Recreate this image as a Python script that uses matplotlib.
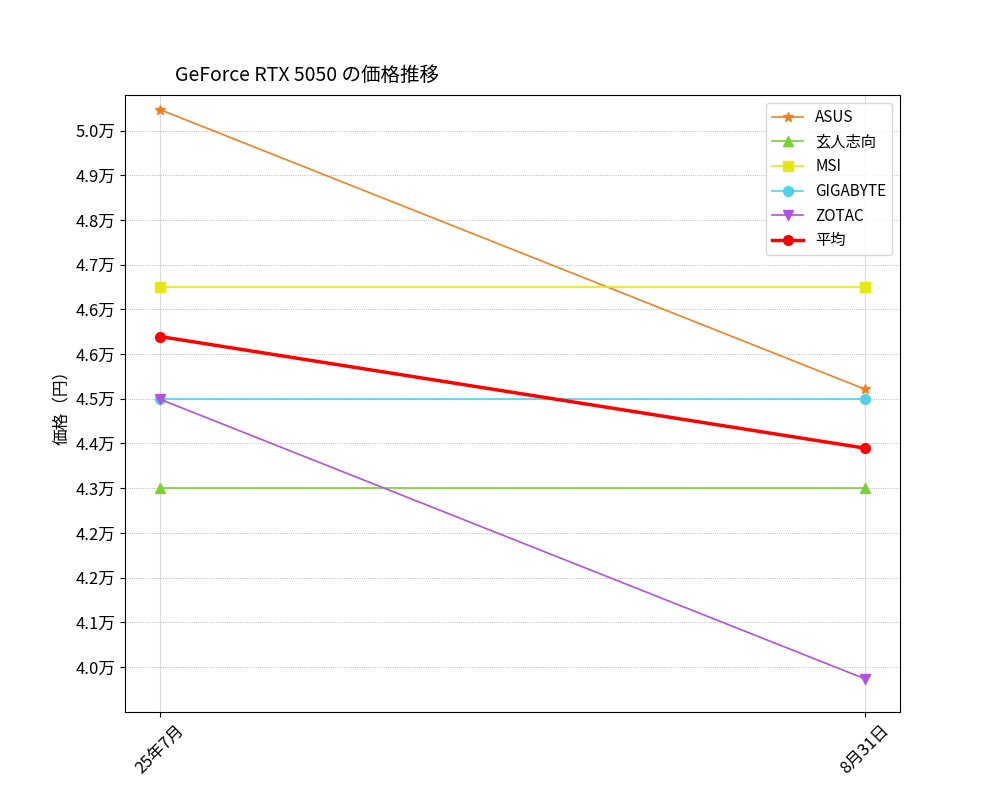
import numpy as np
import matplotlib.pyplot as plt
from matplotlib.ticker import FixedLocator

plt.rcParams['font.family'] = ['Noto Sans CJK JP', 'DejaVu Sans']
plt.rcParams['font.size'] = 12

dates = ['25年7月', '8月31日']
asus = [50390, 45180]
kurouto = [43330, 43330]
msi = [47080, 47080]
gigabyte = [44990, 44990]
zotac = [44990, 39780]
avg = [46160, 44080]

ytick_vals = np.linspace(40000, 50000, 13)
ytick_labels = ['4.0万', '4.1万', '4.2万', '4.2万', '4.3万', '4.4万', '4.5万',
                '4.6万', '4.6万', '4.7万', '4.8万', '4.9万', '5.0万']

fig = plt.figure(figsize=(10, 8), dpi=100)
ax = fig.add_axes([0.125, 0.11, 0.775, 0.771])
x = np.arange(len(dates))

ms = 7
ax.plot(x, asus, color='#f0821e', marker='*', markersize=ms, lw=1.2, label='ASUS')
ax.plot(x, kurouto, color='#78d232', marker='^', markersize=ms, lw=1.2, label='玄人志向')
ax.plot(x, msi, color='#e6e614', marker='s', markersize=ms, lw=1.2, label='MSI')
ax.plot(x, gigabyte, color='#50d2e6', marker='o', markersize=ms, lw=1.2, label='GIGABYTE')
ax.plot(x, zotac, color='#b450dc', marker='v', markersize=ms, lw=1.2, label='ZOTAC')
ax.plot(x, avg, color='red', marker='o', markersize=ms, lw=2.5, label='平均')

ax.set_xticks(x)
ax.set_xticklabels(dates, rotation=45)
ax.set_xlim(-0.05, 1.05)
ax.yaxis.set_major_locator(FixedLocator(ytick_vals))
ax.set_yticklabels(ytick_labels)
ax.set_ylim(39160, 50660)
ax.set_ylabel('価格（円）')
ax.grid(axis='y', linestyle=':', linewidth=0.6, color='gray', alpha=0.7)
ax.grid(axis='x', linestyle='-', linewidth=0.8, color='lightgray', alpha=0.8)
ax.text(0.065, 1.015, 'GeForce RTX 5050 の価格推移', transform=ax.transAxes,
        fontsize=14, ha='left', va='bottom')
ax.legend(loc='upper right', fontsize=11)

fig.savefig('out.png', dpi=100)
